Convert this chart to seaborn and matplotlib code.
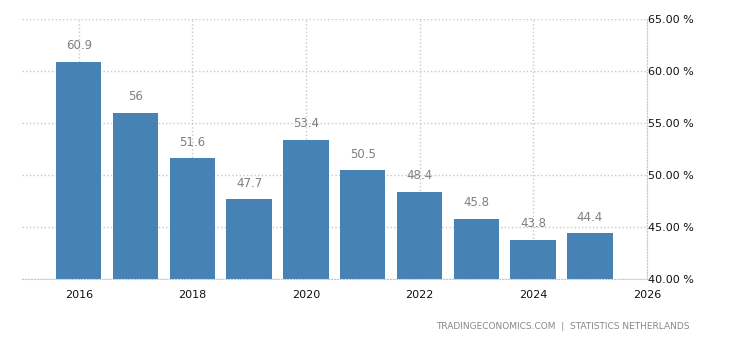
import pandas as pd
import matplotlib.pyplot as plt
import seaborn as sns

years = [2016, 2017, 2018, 2019, 2020, 2021, 2022, 2023, 2024, 2025]
values = [60.9, 56, 51.6, 47.7, 53.4, 50.5, 48.4, 45.8, 43.8, 44.4]
labels = ["60.9", "56", "51.6", "47.7", "53.4", "50.5", "48.4", "45.8", "43.8", "44.4"]
y_ticks = [40, 45, 50, 55, 60, 65]
x_ticks = [2016, 2018, 2020, 2022, 2024, 2026]

df = pd.DataFrame({"year": years, "value": values})

sns.set_style("white")
plt.rcParams['font.family'] = ['DejaVu Sans']

fig = plt.figure(figsize=(7.3, 3.4), dpi=100)
ax = fig.add_axes([0.030, 0.179, 0.856, 0.765])

sns.barplot(data=df, x="year", y="value", native_scale=True, color="#4682b4",
            saturation=1, width=0.8, linewidth=0, ax=ax, zorder=2)

for x, v, t in zip(years, values, labels):
    ax.text(x, v + 0.9, t, ha="center", va="bottom", fontsize=8.5, color="#7f7f7f")

ax.set_xlim(2015, 2026)
ax.set_ylim(40, 65)
ax.set_xticks(x_ticks)
ax.set_xticklabels([str(x) for x in x_ticks])
ax.set_yticks(y_ticks)
ax.set_yticklabels([f"{y:.2f} %" for y in y_ticks])
ax.yaxis.tick_right()
ax.tick_params(axis="y", length=0, pad=1, labelsize=8, labelcolor="#111111")
ax.tick_params(axis="x", length=4, color="#cccccc", labelsize=8, labelcolor="#111111", pad=4)
ax.set_xlabel("")
ax.set_ylabel("")

ax.grid(True, linestyle=":", color="#c8c8c8", linewidth=1, zorder=0)
for side in ["top", "left"]:
    ax.spines[side].set_visible(False)
ax.spines["bottom"].set_linestyle(":")
ax.spines["bottom"].set_color("#c8c8c8")
ax.spines["right"].set_linestyle(":")
ax.spines["right"].set_color("#c8c8c8")

fig.text(0.945, 0.04, "TRADINGECONOMICS.COM  |  STATISTICS NETHERLANDS", ha="right",
         va="center", fontsize=6.5, color="#888888")

fig.savefig("out.png", dpi=100)
